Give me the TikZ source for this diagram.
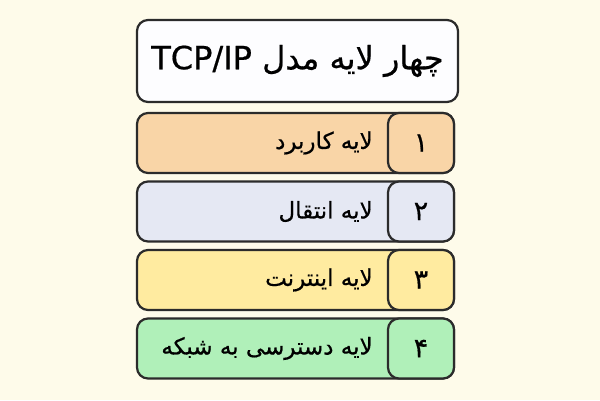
\documentclass[tikz,border=0pt]{standalone}
\usepackage{fontspec}
\usetikzlibrary{positioning}
\newfontfamily\arabicfont[Script=Arabic,FakeBold=0.6]{DejaVu Sans}
\TeXXeTstate=1
\definecolor{bgcream}{HTML}{FEFBEA}
\definecolor{edgegray}{HTML}{2B2B2B}
\definecolor{titlefill}{HTML}{FDFDFF}
\definecolor{appfill}{HTML}{F9D5A7}
\definecolor{transfill}{HTML}{E5E8F3}
\definecolor{netfill}{HTML}{FFEBA0}
\definecolor{linkfill}{HTML}{B0F0B9}
\tikzset{
  roundbox/.style={draw=edgegray,line width=2.2pt,rounded corners=11pt,inner sep=0pt},
  layerbox/.style={roundbox,minimum width=317pt,minimum height=60pt},
  numbox/.style={roundbox,minimum width=66pt,minimum height=60pt,font=\arabicfont\fontsize{27}{30}\selectfont},
  layertext/.style={inner sep=0pt,font=\arabicfont\fontsize{23}{28}\selectfont}
}
% #1 Name, #2 Farbe, #3 y-Mitte, #4 Ziffer, #5 Text
\def\layerrow#1#2#3#4#5{%
  \node[layerbox,fill=#2] (#1) at (295.5,#3) {};
  \node[numbox,fill=#2] (#1num) at (421,#3) {#4};
  \node[layertext,left=14pt of #1num] (#1txt) {#5};
}
\begin{document}
\begin{tikzpicture}[x=1pt,y=-1pt]
  % Hintergrund
  \fill[bgcream] (0,0) rectangle (600,400);
  \useasboundingbox (0,0) rectangle (600,400);
  % Titel
  \node[roundbox,fill=titlefill,minimum width=321pt,minimum height=82pt,
        font=\arabicfont\fontsize{32}{36}\selectfont] (title) at (297.5,61)
        {\beginR چهار لایه مدل \beginL TCP/IP\endL\endR};
  % Schichten
  \layerrow{app}{appfill}{143}{\beginR ۱\endR}{\beginR لایه کاربرد\endR}
  \layerrow{trans}{transfill}{211.5}{\beginR ۲\endR}{\beginR لایه انتقال\endR}
  \layerrow{net}{netfill}{280}{\beginR ۳\endR}{\beginR لایه اینترنت\endR}
  \layerrow{link}{linkfill}{348.5}{\beginR ۴\endR}{\beginR لایه دسترسی به شبکه\endR}
\end{tikzpicture}
\end{document}
